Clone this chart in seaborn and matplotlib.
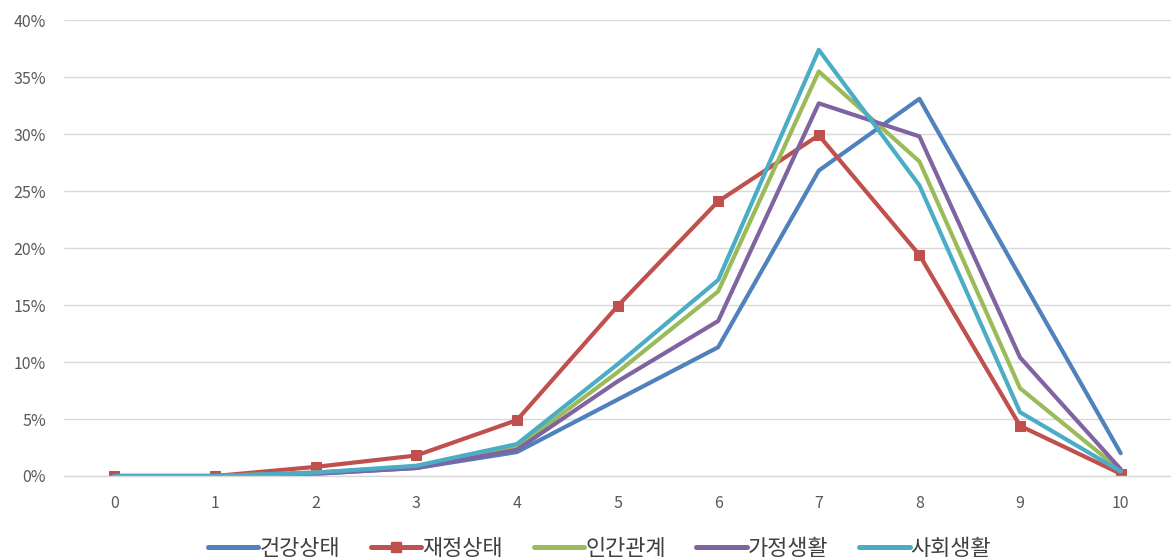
import matplotlib
matplotlib.use("Agg")
import matplotlib.pyplot as plt
import seaborn as sns
import pandas as pd
from matplotlib.ticker import PercentFormatter, MultipleLocator
from matplotlib.lines import Line2D

# Satisfaction scores 0-10 and share of respondents (%) per life domain
scores = list(range(11))
series_names = ["건강상태", "재정상태", "인간관계", "가정생활", "사회생활"]
health = [0.0, 0.0, 0.2, 0.7, 2.1, 6.7, 11.3, 26.8, 33.1, 17.5, 2.0]
finance = [0.0, 0.0, 0.8, 1.8, 4.9, 14.9, 24.1, 29.9, 19.4, 4.4, 0.2]
relations = [0.0, 0.0, 0.3, 0.8, 2.5, 9.1, 16.2, 35.5, 27.6, 7.7, 0.5]
family = [0.0, 0.0, 0.2, 0.7, 2.3, 8.3, 13.6, 32.7, 29.8, 10.4, 0.6]
social = [0.0, 0.0, 0.3, 0.9, 2.8, 9.8, 17.2, 37.4, 25.5, 5.6, 0.4]
colors = ["#4F81BD", "#C0504D", "#9BBB59", "#8064A2", "#4BACC6"]

values = [health, finance, relations, family, social]
df = pd.concat(
    [pd.DataFrame({"score": scores, "pct": v, "domain": n}) for n, v in zip(series_names, values)],
    ignore_index=True,
)

sns.set_theme(style="white")
plt.rcParams["font.family"] = ["Noto Sans CJK KR", "DejaVu Sans"]

fig = plt.figure(figsize=(11.71, 5.6), dpi=100)
ax = fig.add_axes([0.0547, 0.15, 0.9453, 0.814])

handles = []
for name, color in zip(series_names, colors):
    sub = df[df["domain"] == name]
    marker = "s" if name == "재정상태" else None
    sns.lineplot(data=sub, x="score", y="pct", ax=ax, color=color, linewidth=3.0,
                 marker=marker, markersize=7, markeredgecolor=color, legend=False)
    handles.append(Line2D([0], [0], color=color, linewidth=3.6, marker=marker,
                          markersize=7, markeredgecolor=color))

ax.set_xlim(-0.5, 10.5)
ax.set_ylim(0, 40)
ax.yaxis.set_major_locator(MultipleLocator(5))
ax.yaxis.set_major_formatter(PercentFormatter(decimals=0))
ax.set_xticks(scores)
ax.set_xlabel("")
ax.set_ylabel("")
ax.grid(axis="y", color="#D9D9D9", linewidth=1.0)
ax.set_axisbelow(True)
for side in ["left", "right", "top"]:
    ax.spines[side].set_visible(False)
ax.spines["bottom"].set_color("#D9D9D9")
ax.spines["bottom"].set_linewidth(1.0)
ax.tick_params(axis="both", length=0, labelsize=11.5, labelcolor="#595959")
ax.tick_params(axis="y", pad=13)
ax.tick_params(axis="x", pad=14)

fig.legend(handles, series_names, loc="lower center", bbox_to_anchor=(0.512, -0.035),
           ncol=5, frameon=False, prop={"size": 15.8, "weight": "medium"},
           handlelength=2.3, handletextpad=0.05, columnspacing=1.4, labelcolor="#404040")

fig.savefig("out.png", dpi=100, facecolor="white")
